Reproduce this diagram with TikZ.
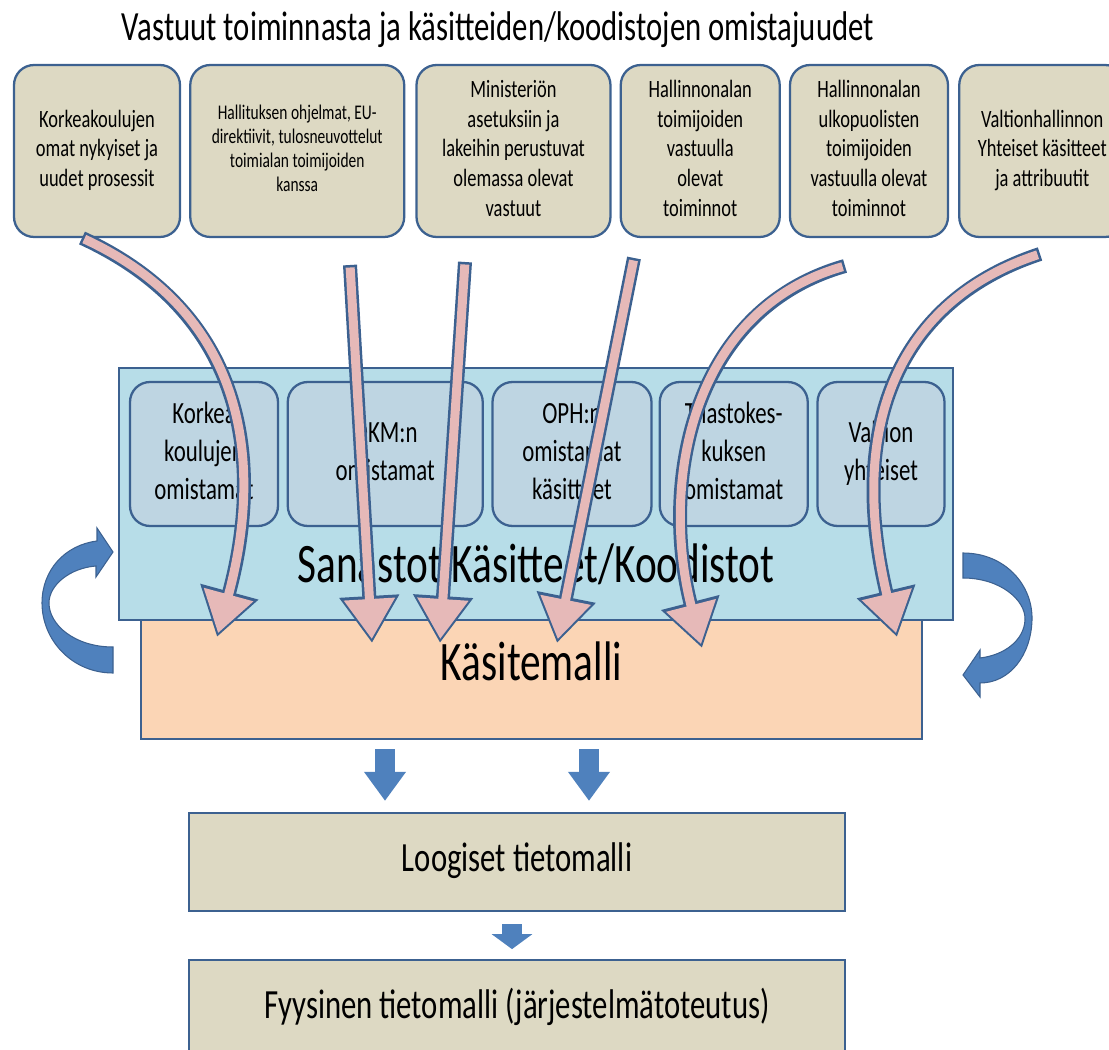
\documentclass[tikz,border=0pt]{standalone}
\usepackage{fontspec}
\setmainfont{Carlito}
\usepackage{graphicx}
\usetikzlibrary{arrows.meta,positioning}
\definecolor{boxedge}{HTML}{3C6190}
\definecolor{tan}{HTML}{DDD9C3}
\definecolor{aqua}{HTML}{B7DDE8}
\definecolor{innerblue}{HTML}{BED5E2}
\definecolor{peach}{HTML}{FBD5B5}
\definecolor{feedpink}{HTML}{E6B9B8}
\definecolor{arrowblue}{HTML}{4F81BD}
\def\tall#1{\scalebox{1}[1.35]{\begin{tabular}{@{}c@{}}#1\end{tabular}}}
\def\feed#1{\draw[feededge] #1; \draw[feedfill] #1;}
\tikzset{
  srcbox/.style={draw=boxedge, line width=1.3pt, fill=tan, rounded corners=0.4cm,
    minimum height=3.44cm, font=\fontsize{10.5}{12.5}\selectfont},
  ownbox/.style={draw=boxedge, line width=1.3pt, fill=innerblue, rounded corners=0.4cm,
    minimum height=2.88cm, font=\fontsize{13}{16}\selectfont},
  modelbox/.style={draw=boxedge, line width=1.3pt, fill=tan, minimum width=13.12cm,
    minimum height=1.96cm, font=\fontsize{17.5}{20}\selectfont},
  feededge/.style={draw=boxedge, line width=0.28cm, -{Triangle[length=0.94cm,width=1.14cm]}},
  feedfill/.style={draw=feedpink, line width=0.18cm, shorten <=0.05cm, shorten >=0.08cm,
    -{Triangle[length=0.8cm,width=0.98cm]}},
  flowdown/.style={draw=arrowblue, line width=0.4cm, -{Triangle[length=0.58cm,width=0.8cm]}},
  curlarrow/.style={fill=arrowblue, draw=boxedge, line width=0.6pt},
}
\begin{document}
\begin{tikzpicture}[x=0.02cm,y=-0.02cm]
\useasboundingbox (0,0) rectangle (1109,1050);
\node[font=\fontsize{17.5}{20}\selectfont] (title) at (498,31)
  {\tall{Vastuut toiminnasta ja käsitteiden/koodistojen omistajuudet}};

\node[srcbox, minimum width=3.32cm] (korkea) at (97,151)
  {\tall{Korkeakoulujen\\omat nykyiset ja\\uudet prosessit}};
\node[srcbox, minimum width=4.28cm, right=0.16cm of korkea, font=\fontsize{8.8}{10.1}\selectfont] (hallitus)
  {\tall{Hallituksen ohjelmat, EU-\\direktiivit, tulosneuvottelut\\toimialan toimijoiden\\kanssa}};
\node[srcbox, minimum width=3.88cm, right=0.2cm of hallitus] (ministerio)
  {\tall{Ministeriön\\asetuksiin ja\\lakeihin perustuvat\\olemassa olevat\\vastuut}};
\node[srcbox, minimum width=3.18cm, right=0.16cm of ministerio] (hallinnon)
  {\tall{Hallinnonalan\\toimijoiden\\vastuulla\\olevat\\toiminnot}};
\node[srcbox, minimum width=3.16cm, right=0.16cm of hallinnon] (ulkopuoliset)
  {\tall{Hallinnonalan\\ulkopuolisten\\toimijoiden\\vastuulla olevat\\toiminnot}};
\node[srcbox, minimum width=3.32cm, right=0.18cm of ulkopuoliset] (valtio)
  {\tall{Valtionhallinnon\\Yhteiset käsitteet\\ja attribuutit}};

\node[draw=boxedge, line width=1.3pt, fill=peach, minimum width=15.62cm, minimum height=2.84cm,
  font=\fontsize{23.5}{26}\selectfont] (kasitemalli) at (531.5,668) {\tall{Käsitemalli}};
\node[draw=boxedge, line width=1.3pt, fill=aqua, minimum width=16.68cm, minimum height=5.04cm]
  (sanastot) at (536,494) {};
\node[ownbox, minimum width=2.96cm] (korkeaown) at (204,454) {\tall{Korkea\\koulujen\\omistamat}};
\node[ownbox, minimum width=3.9cm, right=0.15cm of korkeaown] (okm) {\tall{OKM:n\\omistamat}};
\node[ownbox, minimum width=3.18cm, right=0.15cm of okm] (oph) {\tall{OPH:n\\omistamat\\käsitteet}};
\node[ownbox, minimum width=2.96cm, right=0.12cm of oph] (tilasto) {\tall{Tilastokes-\\kuksen\\omistamat}};
\node[ownbox, minimum width=2.54cm, right=0.15cm of tilasto] (valtioown) {\tall{Valtion\\yhteiset}};
\node[font=\fontsize{23.5}{26}\selectfont] (sanastoteksti) at (536,570) {\tall{Sanastot Käsitteet/Koodistot}};

\coordinate (s1) at (82,238);   \coordinate (e1) at (217,637);
\coordinate (s2) at (350,265);  \coordinate (e2) at (372,643);
\coordinate (s3) at (465,262);  \coordinate (e3) at (440,643);
\coordinate (s4) at (634,258);  \coordinate (e4) at (557,643);
\coordinate (s5) at (845,266);  \coordinate (e5) at (702,648);
\coordinate (s6) at (1040,254); \coordinate (e6) at (897,637);
\feed{(s1) .. controls (260,320) and (259,483) .. (e1)}
\feed{(s2) -- (e2)}
\feed{(s3) -- (e3)}
\feed{(s4) -- (e4)}
\feed{(s5) .. controls (690,310) and (660,485) .. (e5)}
\feed{(s6) .. controls (900,300) and (846,424) .. (e6)}

\node[modelbox] (loogiset) at (517,862) {\tall{Loogiset tietomalli}};
\node[modelbox, below=0.94cm of loogiset] (fyysinen) {\tall{Fyysinen tietomalli (järjestelmätoteutus)}};

\coordinate (m1) at (385,0);
\coordinate (m2) at (589,0);
\draw[flowdown, shorten <=0.18cm, shorten >=0.22cm] (kasitemalli.south -| m1) -- (loogiset.north -| m1);
\draw[flowdown, shorten <=0.18cm, shorten >=0.22cm] (kasitemalli.south -| m2) -- (loogiset.north -| m2);
\draw[flowdown, shorten <=0.24cm, shorten >=0.2cm, -{Triangle[length=0.3cm,width=0.8cm]}]
  ([xshift=-0.1cm]loogiset.south) -- ([xshift=-0.1cm]fyysinen.north);

\filldraw[curlarrow] (113,673) .. controls (72,673) and (42,640) .. (42,603)
  .. controls (42,570) and (65,545) .. (97,541) -- (97,528) -- (113,552) -- (96,577) -- (96,566)
  .. controls (70,568) and (49,585) .. (49,603) .. controls (49,625) and (75,647) .. (113,647) -- cycle;
\filldraw[curlarrow] (963,553) .. controls (1005,553) and (1033,585) .. (1032,620)
  .. controls (1031,655) and (1010,683) .. (980,683) -- (980,697) -- (963,675) -- (980,650) -- (980,658)
  .. controls (1005,655) and (1024,640) .. (1025,620) .. controls (1026,600) and (1000,578) .. (963,578) -- cycle;
\end{tikzpicture}
\end{document}
